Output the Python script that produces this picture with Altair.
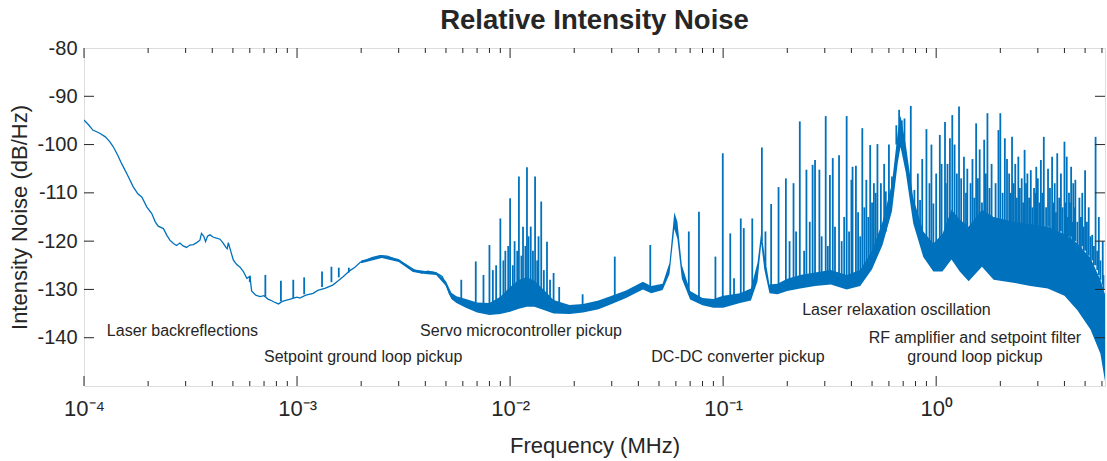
import altair as alt
import pandas as pd

BLUE = "#0072BD"
INK = "#262626"
FONT = "Liberation Sans"

# ---- thin low-frequency trace (MHz, dB/Hz)
low_freq = [1.00e-4, 1.05e-4, 1.10e-4, 1.18e-4, 1.26e-4, 1.32e-4, 1.37e-4, 1.44e-4, 1.50e-4, 1.60e-4,
            1.70e-4, 1.79e-4, 1.87e-4, 1.97e-4, 2.08e-4, 2.16e-4, 2.23e-4, 2.36e-4, 2.45e-4, 2.53e-4,
            2.63e-4, 2.72e-4, 2.82e-4, 2.92e-4, 3.03e-4, 3.14e-4, 3.26e-4, 3.38e-4, 3.50e-4, 3.56e-4,
            3.65e-4, 3.72e-4, 3.80e-4, 3.90e-4, 4.05e-4, 4.19e-4, 4.35e-4, 4.50e-4, 4.62e-4, 4.70e-4,
            4.76e-4, 4.85e-4, 5.02e-4, 5.20e-4, 5.40e-4, 5.60e-4, 5.81e-4, 6.01e-4, 6.12e-4, 6.40e-4,
            6.70e-4, 7.00e-4, 7.30e-4, 7.50e-4, 7.80e-4, 8.18e-4, 8.60e-4, 8.94e-4, 9.30e-4, 1.00e-3,
            1.03e-3, 1.10e-3, 1.19e-3, 1.25e-3, 1.35e-3, 1.47e-3, 1.55e-3, 1.65e-3, 1.77e-3, 1.87e-3,
            1.98e-3, 2.10e-3, 2.25e-3, 2.45e-3, 2.65e-3, 2.85e-3, 3.05e-3, 3.25e-3, 3.45e-3, 3.65e-3,
            3.85e-3, 4.1e-3, 4.35e-3, 4.6e-3, 4.8e-3, 5.0e-3, 5.2e-3, 5.4e-3]
low_db = [-94.9, -95.9, -97.0, -97.6, -98.4, -99.4, -100.4, -102.2, -103.9, -106.3,
          -108.7, -110.2, -110.9, -112.9, -114.3, -116.0, -116.9, -117.4, -118.8, -119.8,
          -120.5, -120.9, -120.4, -121.0, -121.3, -120.8, -120.7, -120.3, -119.8, -118.4,
          -119.0, -120.1, -119.0, -118.7, -119.2, -119.4, -119.6, -120.4, -121.2, -121.6,
          -120.3, -121.6, -123.9, -124.8, -125.4, -126.3, -127.7, -127.3, -130.3, -131.2,
          -131.5, -131.3, -132.0, -132.2, -132.6, -133.0, -132.4, -132.2, -132.0, -131.6,
          -131.8, -131.2, -130.8, -130.2, -129.8, -129.1, -128.3, -127.3, -126.1, -125.4,
          -124.4, -124.0, -123.4, -123.0, -123.1, -123.6, -124.2, -124.9, -125.6, -126.3,
          -126.6, -126.2, -126.4, -126.8, -127.3, -129.0, -131.0, -132.0]

# ---- dense noise band (lower / upper envelope)
band_freq = [2.0e-3, 2.5e-3, 3.0e-3, 3.5e-3, 4.0e-3, 4.5e-3, 5.0e-3, 5.3e-3, 5.6e-3, 6.2e-3,
             7.0e-3, 8.0e-3, 9.0e-3, 1.0e-2, 1.1e-2, 1.2e-2, 1.3e-2, 1.45e-2, 1.6e-2, 1.9e-2,
             2.2e-2, 2.6e-2, 3.0e-2, 3.5e-2, 4.2e-2, 4.6e-2, 5.2e-2, 5.6e-2, 5.9e-2, 6.1e-2,
             6.4e-2, 7.0e-2, 8.0e-2, 9.0e-2, 0.10, 0.12, 0.135, 0.145, 0.151, 0.156,
             0.165, 0.18, 0.20, 0.23, 0.27, 0.32, 0.38, 0.44, 0.50, 0.56,
             0.62, 0.66, 0.68, 0.72, 0.78, 0.87, 0.97, 1.07, 1.18, 1.29,
             1.42, 1.64, 1.86, 2.3, 2.77, 3.34, 4.0, 4.6, 5.3, 5.9, 6.2]
band_low = [-124.6, -123.5, -124.3, -126.4, -126.8, -127.0, -129.3, -132.0, -132.8, -133.8,
            -134.8, -135.3, -135.1, -134.6, -134.0, -133.6, -133.6, -134.3, -135.0, -135.1,
            -134.8, -134.1, -133.0, -131.8, -130.0, -130.8, -130.1, -126.8, -117.5, -119.5,
            -127.8, -132.1, -133.3, -133.8, -133.8, -132.8, -132.3, -128.3, -120.5, -125.8,
            -130.8, -131.0, -130.3, -129.8, -129.3, -129.0, -130.0, -129.3, -125.8, -120.8,
            -113.8, -103.8, -100.5, -105.8, -116.3, -123.3, -126.3, -126.3, -123.8, -126.3,
            -128.3, -125.3, -128.0, -128.6, -129.3, -129.8, -131.3, -134.3, -138.3, -143.3, -149.0]
band_high = [-124.0, -122.9, -123.7, -125.8, -126.2, -126.4, -128.3, -130.7, -131.4, -132.0,
             -132.7, -132.8, -131.5, -129.5, -128.0, -127.5, -128.2, -130.2, -132.2, -133.2,
             -133.0, -132.3, -131.3, -130.2, -128.4, -129.3, -128.8, -124.5, -114.0, -116.0,
             -125.0, -130.3, -131.8, -132.0, -131.3, -130.8, -129.8, -124.5, -118.0, -122.5,
             -129.0, -128.8, -127.8, -127.0, -126.5, -126.0, -127.0, -126.0, -122.0, -116.0,
             -108.0, -97.5, -94.0, -100.0, -111.0, -118.0, -120.5, -118.5, -113.5, -115.5,
             -117.0, -113.5, -115.0, -116.0, -116.5, -117.0, -118.5, -120.5, -123.5, -128.0, -131.0]

# ---- tall narrow spurs (frequency, peak, foot)
spike_freq = [6.0e-4, 7.1e-4, 8.4e-4, 9.6e-4, 1.08e-3, 1.31e-3, 1.45e-3, 1.57e-3, 1.75e-3,
              5.9e-3, 6.9e-3, 8.0e-3, 8.6e-3, 9.0e-3, 9.5e-3, 1.0e-2, 1.05e-2, 1.1e-2, 1.15e-2,
              1.2e-2, 1.25e-2, 1.31e-2, 1.36e-2, 1.40e-2, 1.49e-2, 1.60e-2, 1.7e-2, 2.19e-2, 3.1e-2,
              4.55e-2, 6.9e-2, 7.7e-2, 9.2e-2, 0.0996, 0.108, 0.1125, 0.121, 0.125, 0.137,
              0.152, 0.158, 0.168, 0.182, 0.197, 0.214, 0.229, 0.246, 0.263, 0.27,
              0.283, 0.303, 0.317, 0.327, 0.35, 0.38, 0.40, 0.405, 0.42, 0.45,
              0.47, 0.49, 0.51, 0.53, 0.58, 0.62, 0.65, 0.67, 0.69, 0.71,
              0.76, 0.79, 0.84, 0.90, 0.97, 1.10, 1.13, 1.16, 1.19, 1.22,
              1.28, 1.35, 1.40, 1.48, 1.54, 1.60, 1.68, 1.74, 1.82, 1.96,
              2.0, 2.1, 2.2, 2.27, 2.35, 2.43, 2.52, 2.6, 2.68, 2.78,
              2.88, 2.95, 3.0, 3.1, 3.2, 3.35, 3.5, 3.6, 3.7, 3.85,
              4.0, 4.1, 4.2, 4.3, 4.4, 4.5, 4.7, 4.85, 5.0, 5.2,
              5.4, 5.6, 5.8, 6.05]
spike_top = [-127.2, -127.0, -128.2, -128.0, -127.5, -126.3, -125.3, -125.5, -125.5,
             -128.0, -124.2, -120.8, -125.0, -115.3, -122.0, -111.1, -120.0, -106.6, -117.0,
             -104.7, -117.0, -106.6, -119.0, -111.8, -120.1, -126.6, -129.5, -131.0, -123.2,
             -120.8, -118.0, -113.9, -123.2, -101.8, -118.4, -127.7, -115.3, -117.3, -115.3,
             -100.6, -118.0, -112.3, -108.8, -107.0, -108.0, -95.2, -105.2, -104.2, -103.2,
             -105.2, -94.1, -106.3, -102.8, -102.2, -94.1, -107.3, -104.6, -104.4, -96.6,
             -107.3, -100.1, -108.0, -99.9, -109.7, -106.6, -96.0, -92.8, -95.0, -94.6,
             -92.0, -109.4, -111.5, -96.8, -112.2, -95.3, -104.0, -98.7, -93.9, -100.0,
             -92.1, -102.5, -105.0, -103.0, -95.6, -101.0, -99.0, -93.5, -104.0, -97.0,
             -93.5, -98.7, -106.0, -98.4, -104.0, -102.5, -107.0, -101.1, -106.0, -105.3,
             -109.0, -104.6, -107.0, -103.2, -98.4, -105.0, -102.5, -108.0, -101.8, -106.0,
             -99.4, -102.5, -110.0, -104.6, -108.0, -107.3, -111.0, -110.0, -105.3, -113.0,
             -118.7, -98.4, -115.0, -120.0]
spike_base = [-128.5, -131.5, -132.5, -131.8, -131.0, -129.5, -128.5, -127.5, -126.5,
              -132.0, -133.0, -133.0, -133.0, -132.5, -132.0, -131.5, -131.0, -130.5, -130.0,
              -130.0, -130.0, -130.5, -131.0, -131.0, -132.0, -133.0, -133.5, -133.5, -131.5,
              -129.5, -131.0, -132.0, -133.0, -132.5, -132.0, -132.0, -131.5, -131.0, -130.5,
              -120.0, -125.0, -129.5, -130.0, -129.5, -129.0, -128.5, -128.0, -128.0, -128.0,
              -128.0, -128.0, -128.0, -128.0, -128.5, -129.0, -128.5, -128.5, -128.0, -127.5,
              -126.5, -125.5, -124.0, -122.0, -118.0, -110.0, -100.0, -97.0, -98.0, -100.0,
              -110.0, -115.0, -120.0, -122.0, -124.0, -120.0, -117.0, -117.0, -117.0, -117.0,
              -117.0, -117.0, -117.0, -117.0, -117.0, -117.0, -117.0, -117.0, -117.0, -117.0,
              -117.0, -117.0, -117.0, -117.0, -117.0, -117.0, -117.0, -117.0, -117.0, -117.0,
              -117.0, -117.0, -117.0, -117.0, -117.0, -117.0, -118.0, -118.0, -118.0, -118.0,
              -119.0, -119.0, -119.0, -119.0, -120.0, -120.0, -121.0, -121.0, -122.0, -123.0,
              -124.0, -125.0, -127.0, -129.0]

# ---- smaller spurs filling the dense regions
minor_spur_freq = [7.5e-3, 8.3e-3, 9.3e-3, 9.8e-3, 1.03e-2, 1.08e-2, 1.13e-2, 1.18e-2, 1.22e-2, 1.28e-2,
                   1.34e-2, 1.44e-2, 1.54e-2,
                   0.205, 0.22, 0.24, 0.255, 0.29, 0.31, 0.335, 0.36, 0.37, 0.39,
                   0.43, 0.44, 0.46, 0.48, 0.50, 0.52, 0.55, 0.57, 0.60,
                   0.82, 0.86, 0.93, 0.95, 1.00, 1.04, 1.06,
                   1.11, 1.25, 1.31, 1.38, 1.45, 1.51, 1.57, 1.64, 1.71, 1.78,
                   1.90, 2.05, 2.15, 2.24, 2.31, 2.39, 2.47, 2.56, 2.64, 2.73,
                   2.83, 2.92, 3.05, 3.15, 3.28, 3.42, 3.55, 3.65, 3.78, 3.92,
                   4.05, 4.15, 4.25, 4.35, 4.45, 4.60, 4.78, 4.92, 5.10, 5.30,
                   5.50, 5.70, 5.90, 6.10]
minor_spur_top = [-127.0, -126.0, -124.0, -121.0, -125.0, -122.0, -123.0, -121.0, -119.0, -122.0,
                  -124.0, -126.0, -128.0,
                  -120.0, -118.0, -122.0, -116.0, -119.0, -121.0, -117.0, -120.0, -115.0, -118.0,
                  -114.0, -119.0, -113.0, -115.0, -112.0, -110.0, -108.0, -104.0, -100.0,
                  -106.0, -103.0, -108.0, -100.0, -106.0, -98.0, -104.0,
                  -108.0, -106.0, -107.0, -110.0, -108.0, -111.0, -107.0, -112.0, -106.0, -109.0,
                  -108.0, -110.0, -103.0, -110.0, -108.0, -111.0, -109.0, -112.0, -108.0, -111.0,
                  -113.0, -110.0, -112.0, -110.0, -113.0, -109.0, -112.0, -114.0, -111.0, -113.0,
                  -112.0, -115.0, -112.0, -116.0, -113.0, -116.0, -115.0, -117.0, -116.0, -119.0,
                  -121.0, -122.0, -124.0, -127.0]
minor_spur_base = [-133.0, -133.0, -132.0, -131.5, -131.0, -130.0, -129.5, -129.0, -129.0, -129.5,
                   -130.0, -131.0, -132.0,
                   -129.0, -128.5, -128.0, -128.0, -128.0, -128.0, -128.0, -128.5, -128.5, -128.5,
                   -128.0, -127.5, -126.5, -125.0, -124.0, -122.0, -119.0, -117.0, -112.0,
                   -118.0, -121.0, -123.0, -124.0, -123.0, -121.0, -120.0,
                   -118.0, -118.0, -118.0, -118.0, -118.0, -118.0, -118.0, -118.0, -118.0, -118.0,
                   -118.0, -118.0, -118.0, -118.0, -118.0, -118.0, -118.0, -118.0, -118.0, -118.0,
                   -118.0, -118.0, -118.0, -118.0, -118.0, -118.0, -119.0, -119.0, -119.0, -119.0,
                   -120.0, -120.0, -120.0, -121.0, -121.0, -121.0, -122.0, -122.0, -123.0, -124.0,
                   -125.0, -126.0, -128.0, -130.0]

# ---- annotations
ann_left_text = ["Laser backreflections", "Setpoint ground loop pickup", "Servo microcontroller pickup",
                 "DC-DC converter pickup", "Laser relaxation oscillation"]
ann_left_freq = [1.28e-4, 7.0e-4, 3.78e-3, 4.6e-2, 0.235]
ann_left_db = [-138.6, -144.0, -138.6, -144.0, -134.2]
ann_center_text = ["RF amplifier and setpoint filter", "ground loop pickup"]
ann_center_freq = [1.52, 1.52]
ann_center_db = [-140.0, -144.0]

# ---- axis ticks
x_major = [1e-4, 1e-3, 1e-2, 1e-1, 1.0]
x_minor = [m * d for d in [1e-4, 1e-3, 1e-2, 1e-1, 1.0] for m in range(2, 10) if m * d <= 6.2]
y_major = [-140, -130, -120, -110, -100, -90]

W, H = 1021, 338
xscale = alt.Scale(type="log", domain=[1e-4, 6.2], nice=False)
yscale = alt.Scale(domain=[-150, -80], nice=False)

label_expr = ("datum.value < 0.0005 ? '10⁻⁴' : datum.value < 0.005 ? '10⁻³' : "
              "datum.value < 0.05 ? '10⁻²' : datum.value < 0.5 ? '10⁻¹' : '10⁰'")

xaxis = alt.Axis(values=x_major, labelExpr=label_expr, title="Frequency (MHz)", grid=False,
                 ticks=False, domain=False, labelFontSize=22, titleFontSize=22, labelPadding=12,
                 titlePadding=16, labelColor=INK, titleColor=INK, labelFont=FONT, titleFont=FONT,
                 titleFontWeight="normal", labelFlush=False)
yaxis = alt.Axis(values=[-140, -130, -120, -110, -100, -90, -80], labelExpr="'' + datum.value",
                 title="Intensity Noise (dB/Hz)",
                 grid=False, ticks=False, domain=False, labelFontSize=20, titleFontSize=22,
                 labelPadding=7, titlePadding=5, labelColor=INK, titleColor=INK, labelFont=FONT,
                 titleFont=FONT, titleFontWeight="normal", labelFlush=False)

low_df = pd.DataFrame({"f": low_freq, "db": low_db})
band_df = pd.DataFrame({"f": band_freq, "lo": band_low, "hi": band_high})
spike_df = pd.concat([
    pd.DataFrame({"f": spike_freq, "top": spike_top, "base": spike_base}),
    pd.DataFrame({"f": minor_spur_freq, "top": minor_spur_top, "base": minor_spur_base}),
], ignore_index=True)
annl_df = pd.DataFrame({"f": ann_left_freq, "db": ann_left_db, "t": ann_left_text})
annc_df = pd.DataFrame({"f": ann_center_freq, "db": ann_center_db, "t": ann_center_text})
xmaj_df = pd.DataFrame({"f": x_major})
xmin_df = pd.DataFrame({"f": x_minor})
ymaj_df = pd.DataFrame({"v": y_major})

band = alt.Chart(band_df).mark_area(color=BLUE, opacity=1, clip=True).encode(
    x=alt.X("f:Q", scale=xscale, axis=xaxis),
    y=alt.Y("lo:Q", scale=yscale, axis=yaxis),
    y2="hi:Q",
)
low = alt.Chart(low_df).mark_line(color=BLUE, strokeWidth=1.3, clip=True).encode(
    x=alt.X("f:Q", scale=xscale), y=alt.Y("db:Q", scale=yscale))
spikes = alt.Chart(spike_df).mark_rule(color=BLUE, strokeWidth=1.8, clip=True).encode(
    x=alt.X("f:Q", scale=xscale), y=alt.Y("top:Q", scale=yscale), y2="base:Q")

text_l = alt.Chart(annl_df).mark_text(align="left", baseline="middle", fontSize=16, font=FONT,
                                      color=INK).encode(
    x=alt.X("f:Q", scale=xscale), y=alt.Y("db:Q", scale=yscale), text="t:N")
text_c = alt.Chart(annc_df).mark_text(align="center", baseline="middle", fontSize=16, font=FONT,
                                      color=INK).encode(
    x=alt.X("f:Q", scale=xscale), y=alt.Y("db:Q", scale=yscale), text="t:N")

tk = dict(color=INK, strokeWidth=1)
xmaj_b = alt.Chart(xmaj_df).mark_rule(**tk).encode(x=alt.X("f:Q", scale=xscale), y=alt.value(H), y2=alt.value(H - 10))
xmaj_t = alt.Chart(xmaj_df).mark_rule(**tk).encode(x=alt.X("f:Q", scale=xscale), y=alt.value(0), y2=alt.value(10))
xmin_b = alt.Chart(xmin_df).mark_rule(**tk).encode(x=alt.X("f:Q", scale=xscale), y=alt.value(H), y2=alt.value(H - 5))
xmin_t = alt.Chart(xmin_df).mark_rule(**tk).encode(x=alt.X("f:Q", scale=xscale), y=alt.value(0), y2=alt.value(5))
ymaj_l = alt.Chart(ymaj_df).mark_rule(**tk).encode(y=alt.Y("v:Q", scale=yscale), x=alt.value(0), x2=alt.value(10))
ymaj_r = alt.Chart(ymaj_df).mark_rule(**tk).encode(y=alt.Y("v:Q", scale=yscale), x=alt.value(W), x2=alt.value(W - 10))

chart = alt.layer(band, low, spikes, text_l, text_c, xmaj_b, xmaj_t, xmin_b, xmin_t, ymaj_l, ymaj_r).properties(
    width=W, height=H,
    title=alt.Title("Relative Intensity Noise", fontSize=27.5, font=FONT, fontWeight="bold", color=INK,
                    offset=4),
    autosize=alt.AutoSizeParams(type="none"),
    padding={"left": 84, "top": 48, "right": 2, "bottom": 75},
).configure_view(stroke=INK, strokeWidth=1).configure(background="white")

chart.save("out.html", embed_options={"renderer": "svg", "actions": False})
